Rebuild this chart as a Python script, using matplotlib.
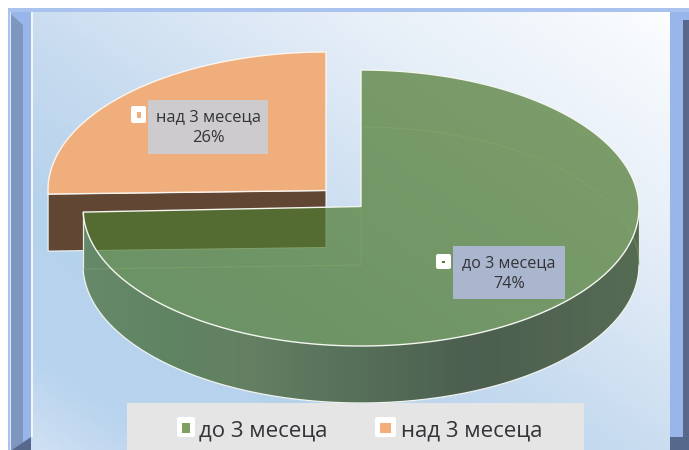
import numpy as np
import matplotlib
matplotlib.use("Agg")
import matplotlib.pyplot as plt
from matplotlib.colors import LinearSegmentedColormap
from matplotlib.patches import Polygon, Rectangle, FancyBboxPatch

categories = ["до 3 месеца", "над 3 месеца"]
values = [74, 26]
colors = ["#507b32", "#f1ae7d"]
legend_colors = ["#7f9f63", "#f3ae7c"]

plt.rcParams["font.family"] = ["Open Sans", "DejaVu Sans"]
text_color = "#333338"

fig = plt.figure(figsize=(6.89, 4.5), dpi=100)
ax = fig.add_axes([0, 0, 1, 1])
ax.axis("off")


def rect(x0, y0, x1, y1, color, z=1):
    ax.add_patch(Rectangle((x0, y0), x1 - x0, y1 - y0, fc=color, ec="none", zorder=z))


# frame
rect(8, 8, 689, 12, "#a9c2ee")
rect(8, 12, 11, 450, "#a9c2ee")
rect(10, 12, 11, 450, "#e4e8f0")
rect(11, 12, 23, 450, "#7f96c0")
rect(23, 12, 31, 450, "#99b6ea")
rect(670, 12, 689, 437, "#99b6ea")
rect(683, 20, 689, 450, "#56688c")
rect(670, 437, 683, 450, "#56688c")
ax.add_patch(Polygon([(11, 12), (31, 12), (31, 32), (23, 25), (11, 14)], fc="#99b6ea", ec="none", zorder=2))
ax.add_patch(Polygon([(12, 450), (31, 437), (31, 450)], fc="#56688c", ec="none", zorder=2))

# background of the plot area
bg_cmap = LinearSegmentedColormap.from_list(
    "bg", [(0, "#fbfdff"), (0.28, "#e4edf7"), (0.55, "#c5daef"), (0.72, "#b5d2ec"), (0.9, "#b9d4ee"), (1, "#cfe0f3")]
)
yy, xx = np.mgrid[0:1:120j, 0:1:160j]
grad = 0.62 * (1 - xx) + 0.62 * yy
ax.imshow(grad / 1.24, cmap=bg_cmap, vmin=0, vmax=1, extent=[31, 670, 450, 12], aspect="auto", zorder=1.5)
rect(31, 12, 33, 437, "#f2f6fb", 1.6)

ax.set_xlim(0, 689)
ax.set_ylim(450, 0)

# pie geometry
rx, ry, depth = 278, 138, 57
view_skew = 1.9
split = 360 * values[0] / sum(values) + view_skew


def rim(cx, cy, a0, a1):
    t = np.radians(np.linspace(a0, a1, 200))
    return np.column_stack([cx + rx * np.sin(t), cy - ry * np.cos(t)])


# orange slice
ocx, ocy = 326, 190
o_arc = rim(ocx, ocy, split, 360)
o_left = o_arc[0]
ax.add_patch(Polygon([o_left, (ocx, ocy + 0.5), (ocx, ocy + 0.5 + depth), o_left + [0, depth]],
                     fc="#614633", ec="white", lw=0.7, zorder=3))
ax.add_patch(Polygon(np.vstack([o_arc, [(ocx, ocy + 0.5)]]), fc=colors[1], ec="#fbf6f0", lw=1.0, zorder=3.2))

# green slice
gcx, gcy = 361, 208
g_arc = rim(gcx, gcy, 0, split)
front = rim(gcx, gcy, 90, split)
side_pts = np.vstack([front, front[::-1] + [0, depth]])
side = Polygon(side_pts, fc="none", ec="none", zorder=4)
ax.add_patch(side)
side_cmap = LinearSegmentedColormap.from_list(
    "side", [(0, "#66896a"), (0.17, "#5f8462"), (0.3, "#647f63"), (0.5, "#566f59"), (0.7, "#4c5f50"), (1, "#566b54")]
)
im = ax.imshow(np.linspace(0, 1, 256).reshape(1, -1), cmap=side_cmap, extent=[83, 639, 450, 0], aspect="auto", zorder=4)
im.set_clip_path(side)

top_pts = np.vstack([g_arc, [(gcx, gcy - 1.5)]])
ax.add_patch(Polygon(top_pts, fc=colors[0], alpha=0.72, ec="none", zorder=5))
ax.add_patch(Polygon(top_pts, fc="none", ec="#f4f6f0", lw=1.0, zorder=5.2))

# outer edge of the side wall
ax.plot(*(front + [0, depth]).T, color="#f0f3ee", lw=0.9, zorder=5.1)
ax.plot([639, 639], [208, 208 + depth], color="#e8ede6", lw=0.9, zorder=5.1)
ax.plot([front[-1][0], front[-1][0]], [front[-1][1], front[-1][1] + depth], color="#e8ede6", lw=0.9, zorder=5.1)

# floor of the pie showing through
floor = rim(gcx, gcy + depth, 0, 90)
ax.plot(*floor.T, color="#8aa96a", lw=0.8, alpha=0.45, zorder=5.1)
ax.plot([front[-1][0], gcx, gcx], [front[-1][1] + depth, gcy + depth, gcy], color="#8aa96a", lw=0.8, alpha=0.45, zorder=5.1)
ax.set_xlim(0, 689)
ax.set_ylim(450, 0)


def marker(x0, y0, x1, y1, color, pad, z=7):
    ax.add_patch(FancyBboxPatch((x0 + 2, y0 + 2), x1 - x0 - 4, y1 - y0 - 4, boxstyle="round,pad=2,rounding_size=2",
                                fc="white", ec="none", zorder=z))
    rect(x0 + pad, y0 + pad + 0.5, x1 - pad, y1 - pad + 0.5, color, z + 0.1)


# data labels
rect(148, 100, 268, 154, "#cdcbcd", 6)
ax.text(208, 128, f"{categories[1]}\n{values[1]}%", ha="center", va="center", fontsize=11.9,
        color=text_color, linespacing=1.4, zorder=7)
marker(131, 106, 146, 123, legend_colors[1], 5.5)

rect(453, 246, 565, 299, "#aab6cd", 6)
ax.text(509, 274, f"{categories[0]}\n{values[0]}%", ha="center", va="center", fontsize=11.6,
        color=text_color, linespacing=1.4, zorder=7)
marker(436, 254, 451, 269, colors[0], 6.2)

# legend
rect(127, 403, 584, 450, "#e5e5e5", 6)
marker(177, 417, 195, 437, legend_colors[0], 5)
ax.text(199, 431, categories[0], ha="left", va="center", fontsize=16, color=text_color, zorder=7)
marker(375, 417, 396, 437, legend_colors[1], 5)
ax.text(401, 431, categories[1], ha="left", va="center", fontsize=16, color=text_color, zorder=7)

fig.savefig("out.png", dpi=100, facecolor="white")
